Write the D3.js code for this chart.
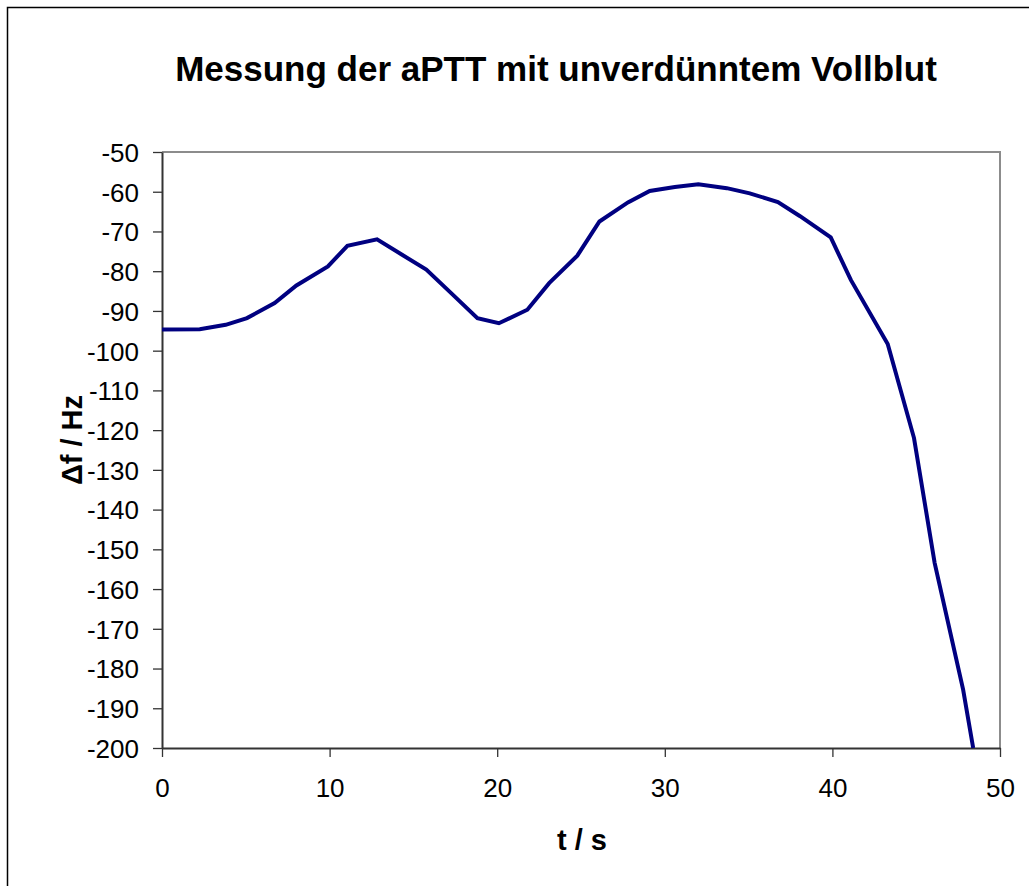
<!DOCTYPE html>
<html>
<head>
<meta charset="utf-8">
<script src="https://cdn.jsdelivr.net/npm/d3@7"></script>
<style>
  body { margin: 0; background: #fff; }
  svg { display: block; font-family: Arial, "Liberation Sans", sans-serif; }
</style>
</head>
<body>
<div id="chart"></div>
<script>
// t / s
let timeValues = [0, 2.25, 3.8, 5.07, 6.72, 8.02, 9.9, 11.06, 12.83, 14.3, 15.77, 17.3,
  18.82, 20.1, 21.8, 23.1, 24.78, 26.1, 27.8, 29.1, 30.6, 32.0, 33.7, 35.07, 36.75,
  38.05, 39.9, 41.1, 43.3, 44.87, 46.1, 47.8, 48.4];
// delta f / Hz
let freqValues = [-94.7, -94.6, -93.5, -91.8, -88.0, -83.6, -78.8, -73.6, -72.0, -75.8, -79.6, -85.7,
  -91.8, -93.1, -89.7, -83.0, -76.1, -67.5, -62.7, -59.8, -58.8, -58.1, -59.1, -60.4, -62.6,
  -66.1, -71.5, -82.2, -98.3, -122.0, -153.4, -185.3, -200.0];
let xTicks = [0, 10, 20, 30, 40, 50];
let yTicks = d3.range(-50, -201, -10);

let titleText = "Messung der aPTT mit unverdünntem Vollblut";
let xLabel = "t / s";
let yLabel = "\u0394f / Hz";

let data = timeValues.map((t, i) => ({ t: t, f: freqValues[i] }));

//
//	drawChart
//
let W = 1029, H = 886;
let margin = { top: 152, right: 29, bottom: 138, left: 162 };
let width = W - margin.left - margin.right;
let height = H - margin.top - margin.bottom;

let svg = d3.select("#chart").append("svg")
  .attr("width", W)
  .attr("height", H);

// outer frame (runs off the right/bottom edge like the original)
svg.append("rect")
  .attr("x", 7.5).attr("y", 7.5)
  .attr("width", 1200).attr("height", 1000)
  .attr("fill", "none")
  .attr("stroke", "#000")
  .attr("stroke-width", 1.5);

let g = svg.append("g")
  .attr("transform", "translate(" + margin.left + "," + margin.top + ")");

let x = d3.scaleLinear().domain([0, 50]).range([0, width]);
let y = d3.scaleLinear().domain([-200, -50]).range([height, 0]);

// plot area top/right border in grey
g.append("path")
  .attr("d", "M0,0H" + width + "V" + height)
  .attr("fill", "none")
  .attr("stroke", "#8c8c8c")
  .attr("stroke-width", 2);

let xAxis = g.append("g")
  .attr("transform", "translate(0," + height + ")")
  .call(d3.axisBottom(x).tickValues(xTicks).tickSize(9).tickPadding(21).tickSizeOuter(0)
    .tickFormat((d) => String(d)));
let yAxis = g.append("g")
  .call(d3.axisLeft(y).tickValues(yTicks).tickSize(9).tickPadding(14).tickSizeOuter(0)
    .tickFormat((d) => String(d)));

[xAxis, yAxis].forEach((a) => {
  a.select(".domain").attr("stroke", "#333").attr("stroke-width", 2);
  a.selectAll(".tick line").attr("stroke", "#333").attr("stroke-width", 1.3);
  a.selectAll(".tick text")
    .attr("fill", "#000")
    .style("font-size", "26px")
    .style("font-family", "Arial, 'Liberation Sans', sans-serif");
});
yAxis.selectAll(".tick text").attr("dy", "0.36em");
xAxis.selectAll(".tick text").attr("dy", "0.72em");

// clip so the falling tail stops at the axis
g.append("clipPath").attr("id", "clip")
  .append("rect").attr("width", width).attr("height", height + 1);

let line = d3.line()
  .x((d) => x(d.t))
  .y((d) => y(d.f));

g.append("path")
  .datum(data)
  .attr("clip-path", "url(#clip)")
  .attr("d", line)
  .attr("fill", "none")
  .attr("stroke", "#000080")
  .attr("stroke-width", 4)
  .attr("stroke-linejoin", "miter");

// title + axis labels
svg.append("text")
  .attr("x", 556).attr("y", 81)
  .attr("text-anchor", "middle")
  .style("font-size", "35px")
  .style("font-weight", "bold")
  .text(titleText);

svg.append("text")
  .attr("x", 582).attr("y", 850)
  .attr("text-anchor", "middle")
  .style("font-size", "29px")
  .style("font-weight", "bold")
  .text(xLabel);

svg.append("text")
  .attr("transform", "translate(82,440) rotate(-90)")
  .attr("text-anchor", "middle")
  .style("font-size", "29px")
  .style("font-weight", "bold")
  .text(yLabel);
</script>
</body>
</html>
